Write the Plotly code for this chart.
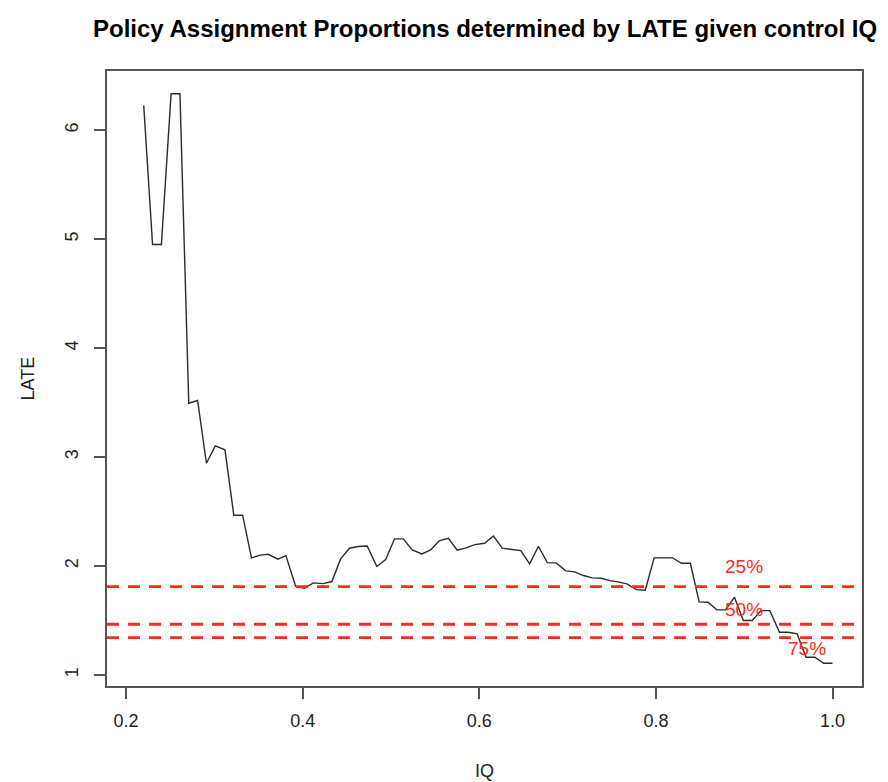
import plotly.graph_objects as go

iq = [0.220, 0.230, 0.240, 0.251, 0.261, 0.271, 0.281, 0.291, 0.301, 0.312,
      0.322, 0.332, 0.342, 0.352, 0.361, 0.372, 0.381, 0.392, 0.402, 0.412,
      0.423, 0.433, 0.443, 0.453, 0.463, 0.473, 0.484, 0.494, 0.504, 0.514,
      0.524, 0.535, 0.545, 0.555, 0.565, 0.575, 0.585, 0.595, 0.606, 0.616,
      0.626, 0.636, 0.647, 0.657, 0.667, 0.677, 0.687, 0.698, 0.708, 0.718,
      0.728, 0.738, 0.748, 0.757, 0.767, 0.778, 0.788, 0.798, 0.808, 0.819,
      0.829, 0.839, 0.849, 0.859, 0.869, 0.879, 0.889, 0.899, 0.909, 0.919,
      0.929, 0.940, 0.950, 0.960, 0.970, 0.980, 0.990, 1.000]
late = [6.228, 4.951, 4.951, 6.335, 6.335, 3.494, 3.519, 2.943, 3.103, 3.066,
        2.466, 2.466, 2.074, 2.100, 2.107, 2.062, 2.095, 1.814, 1.795, 1.845,
        1.838, 1.857, 2.065, 2.163, 2.178, 2.183, 1.995, 2.059, 2.249, 2.249,
        2.148, 2.111, 2.148, 2.233, 2.254, 2.144, 2.166, 2.196, 2.208, 2.275,
        2.163, 2.151, 2.141, 2.019, 2.181, 2.031, 2.028, 1.955, 1.946, 1.912,
        1.891, 1.887, 1.865, 1.854, 1.836, 1.783, 1.777, 2.074, 2.074, 2.074,
        2.025, 2.025, 1.670, 1.667, 1.597, 1.597, 1.713, 1.499, 1.499, 1.590,
        1.590, 1.391, 1.391, 1.376, 1.162, 1.162, 1.107, 1.107]

quantile_labels = ["25%", "50%", "75%"]
quantile_values = [1.811, 1.465, 1.343]
label_x = [0.900, 0.900, 0.971]
label_y = [1.999, 1.600, 1.246]

x_ticks = [0.2, 0.4, 0.6, 0.8, 1.0]
x_tick_text = ["0.2", "0.4", "0.6", "0.8", "1.0"]
y_ticks = [1, 2, 3, 4, 5, 6]

RED = "#ff2a1c"
FONT = "Liberation Sans, Arial, sans-serif"

fig = go.Figure()
fig.add_trace(go.Scatter(x=iq, y=late, mode="lines",
                         line=dict(color="#2b2b2b", width=1.4),
                         showlegend=False, hoverinfo="skip"))

for q in quantile_values:
    fig.add_shape(type="line", xref="paper", x0=0, x1=1, yref="y", y0=q, y1=q,
                  line=dict(color=RED, width=2.8, dash="12px,9px"))

for t, xx, yy in zip(quantile_labels, label_x, label_y):
    fig.add_annotation(x=xx, y=yy, text=t, showarrow=False,
                       font=dict(color=RED, size=19, family=FONT),
                       xanchor="center", yanchor="middle")

fig.add_annotation(text="<b>Policy Assignment Proportions determined by LATE given control IQ</b>",
                   xref="paper", yref="paper", x=0.5, y=1.0, yshift=43,
                   showarrow=False, font=dict(size=24, color="black", family=FONT),
                   xanchor="center", yanchor="middle")
fig.add_annotation(text="IQ", xref="paper", yref="paper", x=0.5, y=0, yshift=-85,
                   showarrow=False, font=dict(size=18, color="#222", family=FONT),
                   xanchor="center", yanchor="middle")
fig.add_annotation(text="LATE", xref="paper", yref="paper", x=0, y=0.5, xshift=-80,
                   showarrow=False, textangle=-90,
                   font=dict(size=18, color="#222", family=FONT),
                   xanchor="center", yanchor="middle")

axis_common = dict(showgrid=False, zeroline=False, showline=True, linecolor="#555",
                   linewidth=1.5, mirror=True, ticks="outside", ticklen=11,
                   tickwidth=1.5, tickcolor="#555",
                   tickfont=dict(size=18, color="#222", family=FONT))

fig.update_layout(
    width=888, height=782,
    margin=dict(l=107, r=26, t=71, b=96),
    paper_bgcolor="white", plot_bgcolor="white",
    xaxis=dict(range=[0.1784, 1.0334], tickvals=x_ticks, ticktext=x_tick_text,
               ticklabelstandoff=7, **axis_common),
    yaxis=dict(range=[0.898, 6.544], tickvals=y_ticks, tickangle=-90,
               ticklabelstandoff=9, **axis_common),
)

fig.write_html("out.html")
